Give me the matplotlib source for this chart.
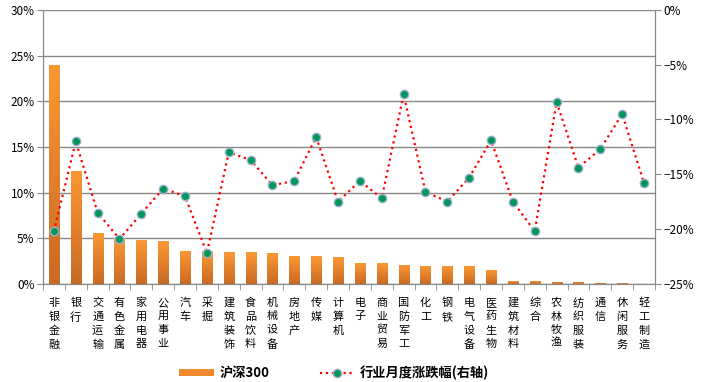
import matplotlib
matplotlib.use('Agg')
import matplotlib.pyplot as plt
import numpy as np
from matplotlib.colors import LinearSegmentedColormap
from matplotlib.ticker import PercentFormatter, FixedLocator, MultipleLocator
from matplotlib.patches import Patch
from matplotlib.lines import Line2D

plt.rcParams['font.family'] = ['Noto Sans CJK SC', 'DejaVu Sans']

# 行业名称
industries = ['非银金融', '银行', '交通运输', '有色金属', '家用电器', '公用事业', '汽车',
              '采掘', '建筑装饰', '食品饮料', '机械设备', '房地产', '传媒', '计算机',
              '电子', '商业贸易', '国防军工', '化工', '钢铁', '电气设备', '医药生物',
              '建筑材料', '综合', '农林牧渔', '纺织服装', '通信', '休闲服务', '轻工制造']

# 沪深300 行业权重 (左轴)
hs300_weight = [0.240, 0.124, 0.056, 0.050, 0.048, 0.047, 0.036,
                0.036, 0.035, 0.035, 0.034, 0.030, 0.030, 0.029,
                0.023, 0.023, 0.021, 0.020, 0.020, 0.019, 0.015,
                0.0035, 0.0033, 0.0022, 0.0022, 0.0006, 0.0004, 0.0]

# 行业月度涨跌幅 (右轴)
monthly_change = [-0.202, -0.120, -0.185, -0.209, -0.186, -0.163, -0.170,
                  -0.222, -0.130, -0.137, -0.160, -0.156, -0.116, -0.175,
                  -0.156, -0.172, -0.077, -0.166, -0.175, -0.153, -0.119,
                  -0.175, -0.202, -0.084, -0.144, -0.127, -0.095, -0.158]

grey = '#888888'

fig = plt.figure(figsize=(7.01, 3.82), dpi=100)
ax = fig.add_axes([0.0613, 0.257, 0.873, 0.717])

x = np.arange(len(industries))
bars = ax.bar(x, hs300_weight, width=0.46, color='#EE8A2C', zorder=2)

# orange gradient inside each bar
cmap = LinearSegmentedColormap.from_list('og', ['#C96A24', '#FB9834'])
grad = np.linspace(0, 1, 100).reshape(-1, 1)
for b in bars:
    h = b.get_height()
    if h <= 0:
        continue
    im = ax.imshow(grad, cmap=cmap, origin='lower', aspect='auto', zorder=2,
                   extent=[b.get_x(), b.get_x() + b.get_width(), 0, h])
    im.set_clip_path(b)

ax.set_xlim(-0.5, len(industries) - 0.5)
ax.set_ylim(0, 0.30)
ax.yaxis.set_major_locator(MultipleLocator(0.05))
ax.yaxis.set_major_formatter(PercentFormatter(1, decimals=0))
ax.yaxis.grid(True, color=grey, lw=1)
ax.set_axisbelow(True)

ax.set_xticks(x)
ax.set_xticklabels(['\n'.join(name) for name in industries], fontsize=8, linespacing=1.45)
ax.xaxis.set_minor_locator(FixedLocator(np.arange(-0.5, len(industries), 1)))
ax.tick_params(axis='x', which='major', length=0, pad=10)
ax.tick_params(axis='x', which='minor', length=4, color=grey, direction='out')
ax.tick_params(axis='y', length=4, color=grey, labelsize=8.5, pad=2)

for s in ['left', 'bottom', 'right']:
    ax.spines[s].set_color(grey)
ax.spines['top'].set_visible(False)

# right axis: monthly change
ax2 = ax.twinx()
ax2.plot(x, monthly_change, ls=':', color='red', lw=1.6, marker='o', ms=6,
         mfc='#00965A', mec='#9AB0CC', mew=1, zorder=3)
ax2.set_ylim(-0.25, 0)
ax2.yaxis.set_major_locator(MultipleLocator(0.05))
ax2.yaxis.set_major_formatter(PercentFormatter(1, decimals=0))
ax2.tick_params(axis='y', length=4, color=grey, labelsize=8.5, pad=2)
for s in ['left', 'bottom', 'right']:
    ax2.spines[s].set_color(grey)
ax2.spines['top'].set_visible(False)

handles = [Patch(facecolor='#EE8A2C', edgecolor='none'),
           Line2D([], [], ls=':', color='red', lw=1.6, marker='o', ms=6,
                  mfc='#00965A', mec='#9AB0CC', mew=1)]
fig.legend(handles, ['沪深300', '行业月度涨跌幅(右轴)'], loc='center',
           bbox_to_anchor=(0.477, 0.024), ncol=2, frameon=False,
           prop={'weight': 'bold', 'size': 9.5}, handlelength=2.6,
           columnspacing=3.8, handletextpad=0.45, handleheight=0.45)

fig.savefig('out.png', dpi=100)
